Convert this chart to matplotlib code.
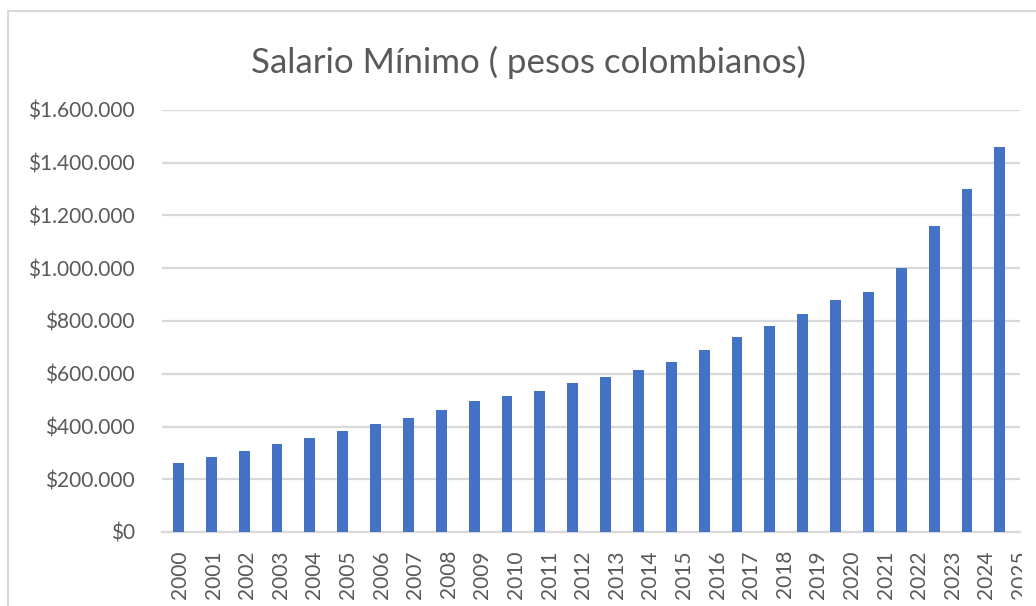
import matplotlib
matplotlib.use("Agg")
import matplotlib.pyplot as plt
from matplotlib.patches import Rectangle
from matplotlib.lines import Line2D
from matplotlib.ticker import FuncFormatter, MultipleLocator
import numpy as np

years = [str(y) for y in range(2000, 2026)]
salario = [260100, 286000, 309000, 332000, 358000, 381500, 408000, 433700,
           461500, 496900, 515000, 535600, 566700, 589500, 616000, 644350,
           689455, 737717, 781242, 828116, 877803, 908526, 1000000, 1160000,
           1300000, 1460000]
title = "Salario Mínimo ( pesos colombianos)"

W, H = 1036, 606
plt.rcParams['font.family'] = ['Lato', 'DejaVu Sans']
TXT = '#595959'
GRID = '#d9d9d9'
BAR = '#4472C4'

fig = plt.figure(figsize=(W / 100, H / 100), dpi=100)
fig.patch.set_facecolor('white')
left, right, bottom, top = 162, 1020, 532, 110
ax = fig.add_axes([left / W, 1 - bottom / H, (right - left) / W, (bottom - top) / H])

x = np.arange(len(years))
ax.bar(x, salario, width=0.33, color=BAR, zorder=3)
ax.set_xlim(-0.5, len(years) - 0.5)
ax.set_ylim(0, 1600000)
ax.yaxis.set_major_locator(MultipleLocator(200000))


def fmt(v, pos):
    if v == 0:
        return "$0"
    return "$" + f"{int(round(v)):,}".replace(",", ".")


ax.yaxis.set_major_formatter(FuncFormatter(fmt))
ax.grid(axis='y', color=GRID, linewidth=1.6, zorder=0)
ax.set_axisbelow(True)
for s in ['left', 'right', 'top']:
    ax.spines[s].set_visible(False)
ax.spines['bottom'].set_color(GRID)
ax.spines['bottom'].set_linewidth(1.6)

# category labels (spacing as in the reference rendering)
label_step = 33.75 / 33
ax.set_xticks(0.045 + x * label_step)
ax.set_xticklabels(years, rotation=90, fontsize=15, color=TXT)
ax.tick_params(axis='x', length=0, pad=13)
ax.tick_params(axis='y', length=0, pad=19.5, labelsize=15, labelcolor=TXT)
for lab in ax.get_xticklabels():
    lab.set_clip_on(False)

fig.text(528.5 / W, 1 - 73 / H, title, ha='center', va='baseline',
         fontsize=25.1, color=TXT)

# chart border
fig.add_artist(Line2D([8 / W, 8 / W], [0, 1 - 11 / H], transform=fig.transFigure,
                      color=GRID, linewidth=1.5))
fig.add_artist(Line2D([8 / W, 1], [1 - 11 / H, 1 - 11 / H], transform=fig.transFigure,
                      color=GRID, linewidth=1.5))
# cropped right edge of the label area
fig.add_artist(Rectangle((1022 / W, 0), (W - 1022) / W, 1 - 536 / H,
                         transform=fig.transFigure, facecolor='white',
                         edgecolor='none', zorder=10))

fig.savefig("out.png", dpi=100, facecolor='white')
